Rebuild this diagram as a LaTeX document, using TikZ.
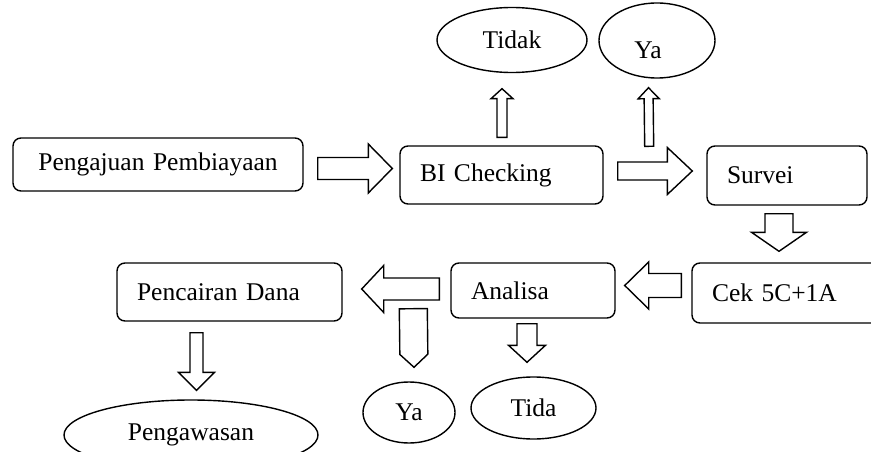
\documentclass[tikz,border=0pt]{standalone}
\usepackage{fontspec}
\setmainfont{Liberation Serif}
\usetikzlibrary{shapes.geometric,calc}

% hollow block arrow: #1 start, #2 tip, #3 shaft half width, #4 head half width, #5 head length
\newcommand{\blockarrow}[5]{%
  \draw[arrowline] let \p1=#1, \p2=#2,
      \n1={atan2(\y2-\y1,\x2-\x1)}, \n2={veclen(\x2-\x1,\y2-\y1)} in
    [shift={(\p1)}, rotate=\n1]
    (0pt,-#3pt) -- (\n2-#5pt,-#3pt) -- (\n2-#5pt,-#4pt) -- (\n2,0pt)
    -- (\n2-#5pt,#4pt) -- (\n2-#5pt,#3pt) -- (0pt,#3pt) -- cycle;}

\begin{document}
\begin{tikzpicture}[x=1pt, y=-1pt, line width=1.4pt,
  font=\fontsize{25.5}{30}\selectfont,
  box/.style={draw, rounded corners=8pt, inner xsep=20pt, align=left},
  oval/.style={draw, ellipse, inner sep=0pt},
  arrowline/.style={draw, fill=white, line join=miter}]
  \useasboundingbox (0,0) rectangle (871,452);

  % boxes
  \node[box, align=center, text width=250pt, minimum height=53pt] (pengajuan) at (158,164.5) {Pengajuan Pembiayaan};
  \node[box, text width=163pt, minimum height=58pt] (bichk) at (501.5,175) {BI Checking};
  \node[box, text width=120pt, minimum height=59pt] (survei) at (787,175.5) {Survei};
  \node[box, text width=148pt, minimum height=60pt] (cek) at (786,293) {Cek 5C+1A};
  \node[box, text width=124pt, minimum height=55pt] (analisa) at (533,290.5) {Analisa};
  \node[box, text width=185pt, minimum height=58pt] (pencairan) at (229.5,292) {Pencairan Dana};

  % decisions
  \node[oval, minimum width=150pt, minimum height=65pt] (tidak) at (512,40) {Tidak};
  \node[oval, minimum width=116pt, minimum height=75pt,
        label={[xshift=-9pt, yshift=-9.5pt]center:Ya}] (yaatas) at (657,40.5) {};
  \node[oval, minimum width=92pt, minimum height=61pt] (yabawah) at (409,412.5) {Ya};
  \node[oval, minimum width=125pt, minimum height=62pt] (tida) at (533.5,408) {Tida};
  \node[oval, minimum width=254pt, minimum height=70pt] (pengawasan) at (191,435) {Pengawasan};

  % arrows
  \blockarrow{($(pengajuan.east)+(14,4)$)}{($(bichk.west)+(-7,-6.5)$)}{11}{24.5}{24}
  \blockarrow{($(bichk.north)+(0.5,-8)$)}{($(tidak.south)+(-10,15.5)$)}{5}{11}{10}
  \blockarrow{($(bichk.north east)+(45.5,1)$)}{($(yaatas.south)+(-8.5,9)$)}{4.5}{10.5}{11}
  \blockarrow{($(bichk.east)+(14,-4)$)}{($(survei.west)+(-14,-4.5)$)}{9}{23.5}{25}
  \blockarrow{($(survei.south)+(-8,8)$)}{($(cek.north)+(-7,-11)$)}{14}{27.5}{19}
  \blockarrow{($(cek.west)+(-10,-7.5)$)}{($(analisa.east)+(9,-5)$)}{12}{23.5}{24}
  \blockarrow{($(analisa.west)+(-11,-1.5)$)}{($(pencairan.east)+(19,-3)$)}{11}{23.5}{22}
  \blockarrow{($(analisa.south west)+(-37,-10)$)}{($(yabawah.north)+(5,-14)$)}{14}{14}{13}
  \blockarrow{($(analisa.south)+(-6,5)$)}{($(tida.north)+(-6.5,-14)$)}{10}{18.5}{17}
  \blockarrow{($(pencairan.south)+(-33,11)$)}{($(pengawasan.north)+(5.5,-9)$)}{6.5}{18}{18}
\end{tikzpicture}
\end{document}
